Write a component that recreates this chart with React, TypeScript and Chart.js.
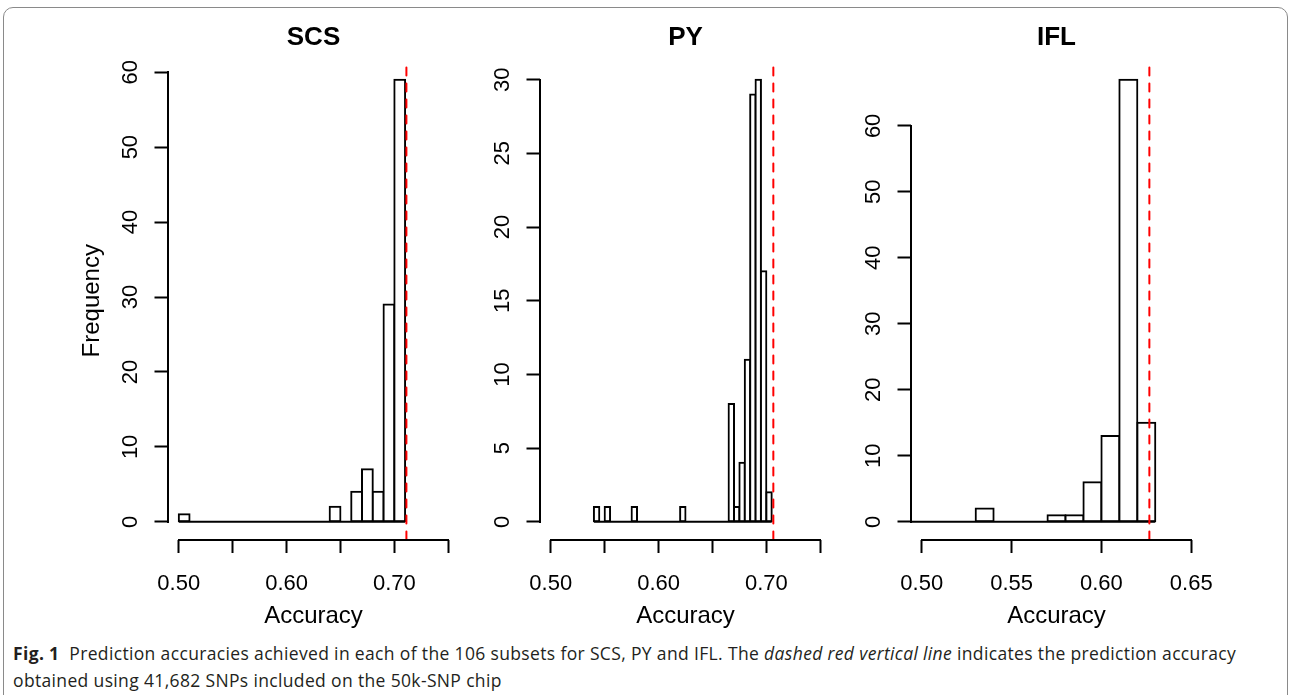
import React, { useEffect, useRef } from 'react';
import { Chart, registerables } from 'chart.js';

Chart.register(...registerables);

const FONT = "'Liberation Sans', Arial, Helvetica, sans-serif";

// ---------- SCS ----------
const scsBinLeft = [0.50, 0.51, 0.52, 0.53, 0.54, 0.55, 0.56, 0.57, 0.58, 0.59, 0.60, 0.61, 0.62, 0.63, 0.64, 0.65, 0.66, 0.67, 0.68, 0.69, 0.70];
const scsCounts = [1, 0, 0, 0, 0, 0, 0, 0, 0, 0, 0, 0, 0, 0, 2, 0, 4, 7, 4, 29, 59];
const scsBinWidth = 0.01;
const scsReference = 0.7112;
const scsXLim = [0.5, 0.75];
const scsXTicks = [0.5, 0.55, 0.6, 0.65, 0.7, 0.75];
const scsXTickLabels = ['0.50', '', '0.60', '', '0.70', ''];
const scsYTicks = [0, 10, 20, 30, 40, 50, 60];
const scsYTickLabels = ['0', '10', '20', '30', '40', '50', '60'];

// ---------- PY ----------
const pyBinLeft = [0.540, 0.545, 0.550, 0.555, 0.560, 0.565, 0.570, 0.575, 0.580, 0.585, 0.590, 0.595, 0.600, 0.605, 0.610, 0.615, 0.620, 0.625, 0.630, 0.635, 0.640, 0.645, 0.650, 0.655, 0.660, 0.665, 0.670, 0.675, 0.680, 0.685, 0.690, 0.695, 0.700];
const pyCounts = [1, 0, 1, 0, 0, 0, 0, 1, 0, 0, 0, 0, 0, 0, 0, 0, 1, 0, 0, 0, 0, 0, 0, 0, 0, 8, 1, 4, 11, 29, 30, 17, 2];
const pyBinWidth = 0.005;
const pyReference = 0.7065;
const pyXLim = [0.5, 0.75];
const pyXTicks = [0.5, 0.55, 0.6, 0.65, 0.7, 0.75];
const pyXTickLabels = ['0.50', '', '0.60', '', '0.70', ''];
const pyYTicks = [0, 5, 10, 15, 20, 25, 30];
const pyYTickLabels = ['0', '5', '10', '15', '20', '25', '30'];

// ---------- IFL ----------
const iflBinLeft = [0.49, 0.50, 0.51, 0.52, 0.53, 0.54, 0.55, 0.56, 0.57, 0.58, 0.59, 0.60, 0.61, 0.62];
const iflCounts = [0, 0, 0, 0, 2, 0, 0, 0, 1, 1, 6, 13, 67, 15];
const iflBinWidth = 0.01;
const iflReference = 0.6267;
const iflXLim = [0.5, 0.65];
const iflXTicks = [0.5, 0.55, 0.6, 0.65];
const iflXTickLabels = ['0.50', '0.55', '0.60', '0.65'];
const iflYTicks = [0, 10, 20, 30, 40, 50, 60];
const iflYTickLabels = ['0', '10', '20', '30', '40', '50', '60'];

// R-style axis lines: only span from first to last tick
const rAxisPlugin = {
  id: 'rAxis',
  afterDraw(chart: any) {
    const { ctx, chartArea, scales } = chart;
    const xs = scales.x;
    const ys = scales.y;
    const align = (p: number) => Math.round(p - 1) + 1;
    ctx.save();
    ctx.strokeStyle = '#000';
    ctx.lineWidth = 2;
    ctx.lineCap = 'square';
    const xt = xs.ticks;
    const yb = align(chartArea.bottom);
    ctx.beginPath();
    ctx.moveTo(align(xs.getPixelForValue(xt[0].value)), yb);
    ctx.lineTo(align(xs.getPixelForValue(xt[xt.length - 1].value)), yb);
    ctx.stroke();
    const yt = ys.ticks;
    const xl = align(chartArea.left);
    ctx.beginPath();
    ctx.moveTo(xl, align(ys.getPixelForValue(yt[0].value)));
    ctx.lineTo(xl, align(ys.getPixelForValue(yt[yt.length - 1].value)));
    ctx.stroke();
    ctx.restore();
  },
};

type PanelProps = {
  title: string;
  binLeft: number[];
  counts: number[];
  binWidth: number;
  reference: number;
  xLim: number[];
  xTicks: number[];
  xTickLabels: string[];
  yTicks: number[];
  yTickLabels: string[];
  yLabel?: string;
  left: number;
};

const CANVAS_W = 491;
const CANVAS_H = 640;

function Panel(props: PanelProps) {
  const ref = useRef<HTMLCanvasElement | null>(null);
  useEffect(() => {
    const { title, binLeft, counts, binWidth, reference, xLim, xTicks, xTickLabels, yTicks, yTickLabels, yLabel } = props;
    const maxCount = Math.max(...counts);
    const yMin = -0.04 * maxCount;
    const yMax = 1.04 * maxCount;
    const xr = xLim[1] - xLim[0];
    const xMin = xLim[0] - 0.04 * xr;
    const xMax = xLim[1] + 0.04 * xr;
    const bars = binLeft.map((b, i) => ({ x: b + binWidth / 2, y: counts[i] }));
    const lastEdge = binLeft[binLeft.length - 1] + binWidth;

    const tickGrid = {
      display: true,
      drawOnChartArea: false,
      drawTicks: true,
      tickLength: 13.5,
      tickWidth: 2,
      tickColor: '#000',
      offset: false,
    };

    const chart = new Chart(ref.current as HTMLCanvasElement, {
      type: 'bar',
      data: {
        datasets: [
          {
            type: 'bar',
            data: bars,
            backgroundColor: '#ffffff',
            borderColor: '#000000',
            borderWidth: 2,
            borderSkipped: false,
            inflateAmount: 1,
            barPercentage: 1,
            categoryPercentage: 1,
            order: 2,
          } as any,
          {
            type: 'line',
            data: [
              { x: binLeft[0], y: 0 },
              { x: lastEdge, y: 0 },
            ],
            borderColor: '#000000',
            borderWidth: 2,
            pointRadius: 0,
            order: 1,
          } as any,
          {
            type: 'line',
            data: [
              { x: reference, y: yMin },
              { x: reference, y: yMax },
            ],
            borderColor: '#ff0000',
            borderWidth: 2,
            borderDash: [8, 8],
            borderCapStyle: 'round',
            pointRadius: 0,
            order: 0,
          } as any,
        ],
      },
      options: {
        responsive: false,
        animation: false,
        events: [],
        layout: { padding: 0 },
        plugins: {
          legend: { display: false },
          tooltip: { enabled: false },
          title: {
            display: true,
            text: title,
            color: '#000',
            font: { family: FONT, size: 26, weight: 'bold' },
            padding: { top: 22.3, bottom: 8.5 },
          },
        },
        scales: {
          x: {
            type: 'linear',
            min: xMin,
            max: xMax,
            bounds: 'data',
            offset: false,
            grid: tickGrid,
            border: { display: false },
            afterBuildTicks: (s: any) => {
              s.ticks = xTicks.map((v) => ({ value: v }));
            },
            afterFit: (s: any) => {
              s.height = 100.5;
            },
            ticks: {
              autoSkip: false,
              maxRotation: 0,
              minRotation: 0,
              padding: 17.5,
              color: '#000',
              font: { family: FONT, size: 22 },
              callback: (_v: any, i: number) => xTickLabels[i],
            },
            title: {
              display: true,
              text: 'Accuracy',
              color: '#000',
              font: { family: FONT, size: 24 },
              padding: { top: 0, bottom: 8.9 },
            },
          },
          y: {
            type: 'linear',
            position: 'left',
            min: yMin,
            max: yMax,
            bounds: 'data',
            grid: tickGrid,
            border: { display: false },
            afterBuildTicks: (s: any) => {
              s.ticks = yTicks.map((v) => ({ value: v }));
            },
            afterFit: (s: any) => {
              s.width = 100;
            },
            ticks: {
              autoSkip: false,
              minRotation: 90,
              maxRotation: 90,
              crossAlign: 'center',
              padding: 11,
              color: '#000',
              font: { family: FONT, size: 22 },
              callback: (_v: any, i: number) => yTickLabels[i],
            },
            title: yLabel
              ? {
                  display: true,
                  text: yLabel,
                  color: '#000',
                  font: { family: FONT, size: 24 },
                  padding: { top: 9.5, bottom: 0 },
                }
              : { display: false },
          },
          // empty right-hand margin so the title is centred over the plot region
          yRight: {
            type: 'linear',
            position: 'right',
            display: true,
            grid: { display: false, drawTicks: false },
            border: { display: false },
            ticks: { display: false },
            afterFit: (s: any) => {
              s.width = 100;
            },
          },
        },
      } as any,
      plugins: [rAxisPlugin],
    });
    return () => chart.destroy();
  }, []);

  return (
    <canvas
      ref={ref}
      width={CANVAS_W}
      height={CANVAS_H}
      style={{ position: 'absolute', left: props.left, top: 0, width: CANVAS_W, height: CANVAS_H }}
    />
  );
}

export default function App() {
  return (
    <div
      style={{
        position: 'fixed',
        left: 0,
        top: 0,
        width: 1290,
        height: 695,
        background: '#ffffff',
        overflow: 'hidden',
      }}
    >
      <div
        style={{
          position: 'absolute',
          left: 3,
          top: 7,
          width: 1285,
          height: 720,
          border: '1.5px solid #8a8a8a',
          borderRadius: 10,
          boxSizing: 'border-box',
        }}
      />
      <Panel
        title="SCS"
        binLeft={scsBinLeft}
        counts={scsCounts}
        binWidth={scsBinWidth}
        reference={scsReference}
        xLim={scsXLim}
        xTicks={scsXTicks}
        xTickLabels={scsXTickLabels}
        yTicks={scsYTicks}
        yTickLabels={scsYTickLabels}
        yLabel="Frequency"
        left={68}
      />
      <Panel
        title="PY"
        binLeft={pyBinLeft}
        counts={pyCounts}
        binWidth={pyBinWidth}
        reference={pyReference}
        xLim={pyXLim}
        xTicks={pyXTicks}
        xTickLabels={pyXTickLabels}
        yTicks={pyYTicks}
        yTickLabels={pyYTickLabels}
        left={440}
      />
      <Panel
        title="IFL"
        binLeft={iflBinLeft}
        counts={iflCounts}
        binWidth={iflBinWidth}
        reference={iflReference}
        xLim={iflXLim}
        xTicks={iflXTicks}
        xTickLabels={iflXTickLabels}
        yTicks={iflYTicks}
        yTickLabels={iflYTickLabels}
        left={811}
      />
      <div
        style={{
          position: 'absolute',
          left: 13,
          top: 640,
          whiteSpace: 'nowrap',
          fontFamily: "'Open Sans', sans-serif",
          fontSize: 17.5,
          letterSpacing: '0.35px',
          lineHeight: '27px',
          color: '#231f20',
        }}
      >
        <b>Fig. 1</b>&nbsp;&nbsp;Prediction accuracies achieved in each of the 106 subsets for SCS, PY and IFL. The{' '}
        <i>dashed red vertical line</i> indicates the prediction accuracy
        <br />
        obtained using 41,682 SNPs included on the 50k-SNP chip
      </div>
    </div>
  );
}
